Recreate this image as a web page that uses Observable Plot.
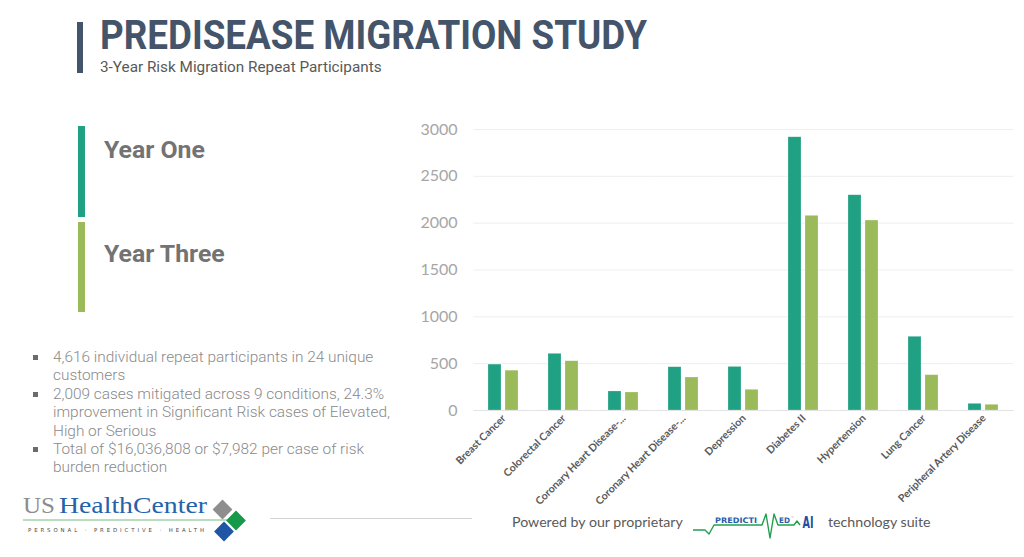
<!DOCTYPE html>
<html>
<head>
<meta charset="utf-8">
<script src="https://cdn.jsdelivr.net/npm/d3@7"></script>
<script src="https://cdn.jsdelivr.net/npm/@observablehq/plot@0.6"></script>
<style>
  html, body { margin: 0; padding: 0; background: #fff; }
  body { width: 1024px; height: 557px; position: relative; overflow: hidden; font-family: Roboto, sans-serif; }
  .abs { position: absolute; }
  #titlebar { left: 77px; top: 22px; width: 6px; height: 51px; background: #44546a; }
  #title { left: 100px; top: 14px; font-weight: 700; font-size: 40px; color: #44546a; white-space: nowrap; transform-origin: 0 0; transform: scaleX(0.92); line-height: 44px; }
  #subtitle { left: 100px; top: 58px; font-size: 15.3px; color: #595959; white-space: nowrap; }
  .legbar { width: 7px; }
  .legtxt { font-weight: 700; font-size: 24.8px; color: #737373; white-space: nowrap; }
  #bullets { left: 33px; top: 348px; font-size: 15.4px; font-weight: 300; color: #8a8a8a; line-height: 18.4px; }
  .b { position: relative; padding-left: 20px; white-space: nowrap; }
  .b::before { content: ""; position: absolute; left: 0; top: 7px; width: 5px; height: 5px; background: #6b6b6b; }
  #chart { left: 400px; top: 110px; }
  #powered { left: 512px; top: 513px; font-family: Lato, "Open Sans", sans-serif; font-size: 14.2px; color: #595959; white-space: nowrap; }
  #suite { left: 828px; top: 513px; font-family: Lato, "Open Sans", sans-serif; font-size: 14.2px; color: #595959; white-space: nowrap; }
</style>
</head>
<body>
<div id="titlebar" class="abs"></div>
<div id="title" class="abs">PREDISEASE MIGRATION STUDY</div>
<div id="subtitle" class="abs">3-Year Risk Migration Repeat Participants</div>

<div id="legend"></div>
<div id="bullets" class="abs"></div>

<div id="chart" class="abs"></div>

<!-- US HealthCenter logo -->
<svg class="abs" style="left:0;top:488px" width="260" height="60" viewBox="0 0 260 60">
  <text x="23" y="25" font-family="'Liberation Serif', serif" font-size="24" fill="#8c8c8c" textLength="32" lengthAdjust="spacingAndGlyphs">US</text>
  <text x="59" y="25" font-family="'Liberation Serif', serif" font-size="24" fill="#2462ab" textLength="148" lengthAdjust="spacingAndGlyphs">HealthCenter</text>
  <line x1="23" y1="32" x2="228" y2="32" stroke="#9fd3a8" stroke-width="1.5"/>
  <text x="28" y="43.5" font-family="'DejaVu Sans', sans-serif" font-size="5.4" fill="#4a4a4a" textLength="176" lengthAdjust="spacing">PERSONAL · PREDICTIVE · HEALTH</text>
  <rect x="215.5" y="14.5" width="14" height="14" fill="#8e8e8e" transform="rotate(45 222.5 21.5)"/>
  <rect x="229" y="25.5" width="14" height="14" fill="#16994a" transform="rotate(45 236 32.5)"/>
  <rect x="217" y="36.5" width="14" height="14" fill="#1f55a4" transform="rotate(45 224 43.5)"/>
</svg>
<div class="abs" style="left:270px;top:518px;width:202px;height:1px;background:#d4d4d4"></div>

<div id="powered" class="abs">Powered by our proprietary</div>
<svg class="abs" style="left:690px;top:505px" width="130" height="38" viewBox="0 0 130 38">
  <polyline fill="none" stroke="#1fa04c" stroke-width="1.4" stroke-linejoin="round"
    points="3,25 15,25 19,29 24,20 30,20 69,20 72,20 76,9 80,33 84,9 88,20 104,20 107,16 110,20"/>
  <text x="25" y="18" font-family="'DejaVu Sans', sans-serif" font-weight="700" font-size="7.6" fill="#2a5caa" textLength="42" lengthAdjust="spacingAndGlyphs">PREDICTI</text>
  <text x="89" y="18" font-family="'DejaVu Sans', sans-serif" font-weight="700" font-size="7.6" fill="#2a5caa" textLength="11" lengthAdjust="spacingAndGlyphs">ED</text>
  <text x="100.5" y="14" font-family="'DejaVu Sans', sans-serif" font-size="3.5" fill="#2a5caa">™</text>
  <text x="112.5" y="22.5" font-family="'DejaVu Sans', sans-serif" font-weight="700" font-size="15" fill="#1f4fa0" textLength="11" lengthAdjust="spacingAndGlyphs">AI</text>
</svg>
<div id="suite" class="abs">technology suite</div>

<script>
// ---- Data ----
const categories = [
  "Breast Cancer",
  "Colorectal Cancer",
  "Coronary Heart Disease-...",
  "Coronary Heart Disease-... ",
  "Depression",
  "Diabetes II",
  "Hypertension",
  "Lung Cancer",
  "Peripheral Artery Disease"
];
const tickLabels = [
  "Breast Cancer",
  "Colorectal Cancer",
  "Coronary Heart Disease-...",
  "Coronary Heart Disease-...",
  "Depression",
  "Diabetes II",
  "Hypertension",
  "Lung Cancer",
  "Peripheral Artery Disease"
];
const seriesNames = ["Year One", "Year Three"];
const yearOne   = [490, 605, 203, 462, 465, 2917, 2298, 787, 71];
const yearThree = [425, 526, 192, 352, 221, 2078, 2028, 377, 61];
const seriesColors = ["#21a184", "#9bbb5b"];
const yTicks = [0, 500, 1000, 1500, 2000, 2500, 3000];

const bulletLines = [
  ["4,616 individual repeat participants in 24 unique", "customers"],
  ["2,009 cases mitigated across 9 conditions, 24.3%", "improvement in Significant Risk cases of Elevated,", "High or Serious"],
  ["Total of $16,036,808 or $7,982 per case of risk", "burden reduction"]
];

// ---- Legend (left) ----
const legend = document.getElementById("legend");
const legendPos = [{bar: 126, h: 91, txt: 135}, {bar: 222, h: 90, txt: 239}];
seriesNames.forEach((s, i) => {
  const bar = document.createElement("div");
  bar.className = "abs legbar";
  bar.style.left = "78px";
  bar.style.top = legendPos[i].bar + "px";
  bar.style.height = legendPos[i].h + "px";
  bar.style.background = seriesColors[i];
  legend.appendChild(bar);
  const t = document.createElement("div");
  t.className = "abs legtxt";
  t.style.left = "104px";
  t.style.top = legendPos[i].txt + "px";
  t.textContent = s;
  legend.appendChild(t);
});

// ---- Bullets ----
const bullets = document.getElementById("bullets");
bulletLines.forEach(lines => {
  const d = document.createElement("div");
  d.className = "b";
  d.innerHTML = lines.join("<br>");
  bullets.appendChild(d);
});

// ---- Chart ----
const data = [];
categories.forEach((c, i) => {
  data.push({cat: c, series: seriesNames[0], value: yearOne[i]});
  data.push({cat: c, series: seriesNames[1], value: yearThree[i]});
});
const labelOf = new Map(categories.map((c, i) => [c, tickLabels[i]]));

// grid rules extend across the gaps between facets so they read as continuous lines
const gapHalf = -14.5;

const chart = Plot.plot({
  width: 624,
  height: 400,
  marginLeft: 73,
  marginRight: 10,
  marginTop: 19,
  marginBottom: 100,
  style: {background: "transparent", overflow: "visible"},
  fx: {domain: categories, paddingInner: 0.48, paddingOuter: 0.24, label: null},
  x: {domain: seriesNames, paddingInner: 0.22, paddingOuter: 0, axis: null},
  y: {domain: [0, 3000], axis: null},
  color: {domain: seriesNames, range: seriesColors},
  marks: [
    Plot.ruleY(yTicks.slice(1), {stroke: "#eeeeee", strokeWidth: 1, insetLeft: gapHalf, insetRight: gapHalf}),
    Plot.barY(data, {fx: "cat", x: "series", y: "value", fill: "series", stroke: "#ffffff", strokeOpacity: 0.35, strokeWidth: 0.6}),
    Plot.ruleY([0], {stroke: "#e3e3e3", strokeWidth: 1, insetLeft: gapHalf, insetRight: gapHalf}),
    Plot.axisY(yTicks, {anchor: "left", tickSize: 0, tickPadding: 31, fontSize: 16, fill: "#a6a6a6", fontFamily: "Lato, 'Open Sans', sans-serif", tickFormat: d => String(d), label: null}),
    Plot.axisFx({anchor: "bottom", tickSize: 0, tickPadding: 6, tickRotate: -45, fontSize: 10.5, fontWeight: 700, fill: "#595959", fontFamily: "Lato, sans-serif", tickFormat: c => labelOf.get(c), label: null})
  ]
});
document.getElementById("chart").appendChild(chart);
</script>
</body>
</html>
